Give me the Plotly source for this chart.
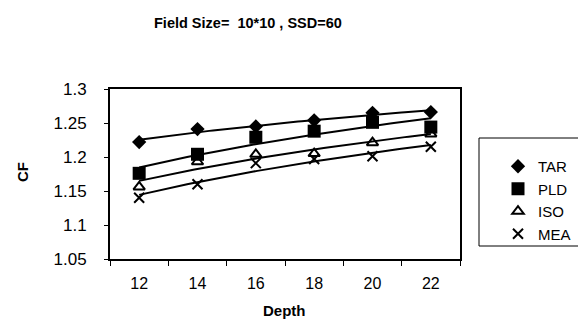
import numpy as np
import plotly.graph_objects as go

depth = [12, 14, 16, 18, 20, 22]
tar = [1.222, 1.241, 1.245, 1.254, 1.265, 1.266]
pld = [1.176, 1.204, 1.229, 1.238, 1.251, 1.244]
iso = [1.156, 1.193, 1.204, 1.205, 1.221, 1.234]
mea = [1.140, 1.160, 1.191, 1.197, 1.201, 1.215]
series_names = ["TAR", "PLD", "ISO", "MEA"]
y_ticks = [1.05, 1.1, 1.15, 1.2, 1.25, 1.3]
y_ticklabels = ["1.05", "1.1", "1.15", "1.2", "1.25", "1.3"]
x_ticklabels = ["12", "14", "16", "18", "20", "22"]

styles = {
    "TAR": dict(symbol="diamond", size=11, color="black"),
    "PLD": dict(symbol="square", size=13, color="black"),
    "ISO": dict(symbol="triangle-up-open", size=10, color="black", line=dict(width=2, color="black")),
    "MEA": dict(symbol="x-thin-open", size=10, color="black", line=dict(width=2, color="black")),
}

FONT = "Liberation Sans, Arial, sans-serif"
fig = go.Figure()

xs = np.array(depth, dtype=float)
xfine = np.linspace(xs.min(), xs.max(), 80)
for name, vals in zip(series_names, [tar, pld, iso, mea]):
    a, b = np.polyfit(np.log(xs), np.array(vals), 1)
    fig.add_trace(go.Scatter(x=xfine, y=a * np.log(xfine) + b, mode="lines",
                             line=dict(color="black", width=2), showlegend=False,
                             hoverinfo="skip"))
for name, vals in zip(series_names, [tar, pld, iso, mea]):
    fig.add_trace(go.Scatter(x=depth, y=vals, mode="markers", name=name,
                             legendgroup=name, marker=styles[name]))

W, H = 586, 329
L, R, T, B = 102, 134, 81, 78
pw, ph = W - L - R, H - T - B

def px(x):
    return (x - L) / pw

def py(y):
    return (H - B - y) / ph

fig.update_layout(
    width=W, height=H,
    margin=dict(l=L, r=R, t=T, b=B),
    paper_bgcolor="white", plot_bgcolor="white",
    font=dict(family=FONT, color="black", size=16),
    showlegend=True,
    legend=dict(x=px(490), y=py(142), xanchor="left", yanchor="top",
                font=dict(size=15, family=FONT), tracegroupgap=0,
                bgcolor="rgba(0,0,0,0)", borderwidth=0),
    xaxis=dict(range=[11, 23], tickvals=depth, ticktext=x_ticklabels, ticks="",
               showgrid=False, zeroline=False, showline=True, linecolor="black",
               linewidth=2, mirror=True, ticklabelstandoff=9,
               tickfont=dict(size=16),
               minor=dict(tickvals=[11, 13, 15, 17, 19, 21, 23], ticks="outside",
                          ticklen=5, tickcolor="black", tickwidth=1, showgrid=False)),
    yaxis=dict(range=[1.05, 1.3], tickvals=y_ticks, ticktext=y_ticklabels,
               ticks="outside", ticklen=4, tickcolor="black",
               showgrid=False, zeroline=False, showline=True, linecolor="black",
               linewidth=2, mirror=True, ticklabelstandoff=14,
               tickfont=dict(size=17)),
    shapes=[dict(type="rect", xref="paper", yref="paper",
                 x0=px(471), x1=px(584), y0=py(238), y1=py(130),
                 line=dict(color="black", width=1), fillcolor="rgba(0,0,0,0)")],
    annotations=[
        dict(text="<b>Field Size=  10*10 , SSD=60</b>", xref="paper", yref="paper",
             x=px(240), y=py(15), showarrow=False, font=dict(size=14.5, family=FONT),
             xanchor="center", yanchor="middle"),
        dict(text="<b>CF</b>", xref="paper", yref="paper", x=px(14), y=py(164),
             showarrow=False, textangle=-90, font=dict(size=15, family=FONT),
             xanchor="center", yanchor="middle"),
        dict(text="<b>Depth</b>", xref="paper", yref="paper", x=px(276), y=py(302),
             showarrow=False, font=dict(size=15, family=FONT),
             xanchor="center", yanchor="middle"),
    ],
)

fig.write_html("out.html")
